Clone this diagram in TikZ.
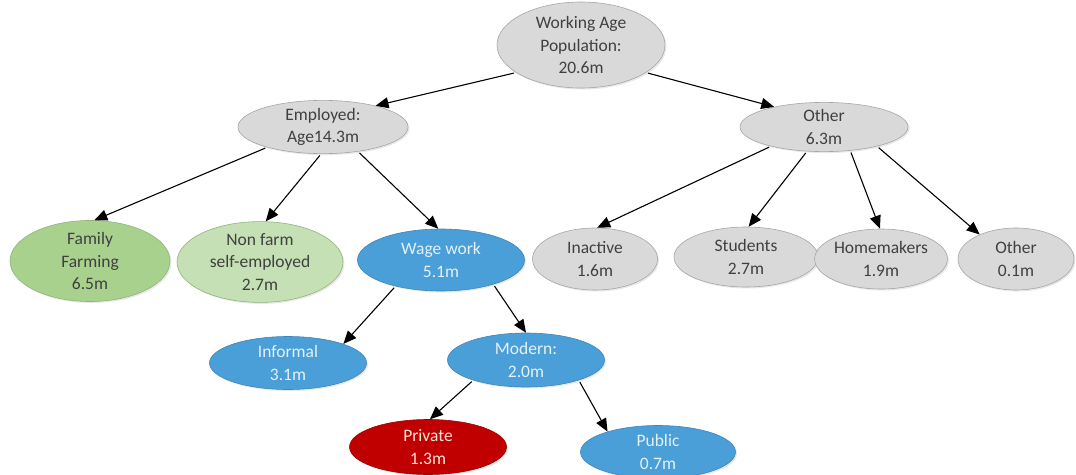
\documentclass[tikz,border=0pt]{standalone}
\usepackage{fontspec}
\setmainfont{Carlito}
\usetikzlibrary{shapes.geometric,arrows.meta,shadows}
\definecolor{gfill}{HTML}{D9D9D9}
\definecolor{gline}{HTML}{A6A6A6}
\definecolor{gtext}{HTML}{404040}
\definecolor{green1}{HTML}{A9D18E}
\definecolor{green2}{HTML}{C5E0B4}
\definecolor{greenline}{HTML}{8FB47A}
\definecolor{bfill}{HTML}{4A9FD8}
\definecolor{bline}{HTML}{3F86B8}
\definecolor{btext}{HTML}{E4F0FA}
\definecolor{rfill}{HTML}{C00000}
\definecolor{rline}{HTML}{A00000}
\definecolor{rtext}{HTML}{FBE3D6}
\tikzset{
  base/.style={ellipse,inner sep=0pt,align=center,line width=0.6pt,
    font=\fontsize{17.5}{22.5}\selectfont,
    drop shadow={opacity=0.18,shadow xshift=1.5pt,shadow yshift=-1.5pt}},
  gnode/.style={base,fill=gfill,draw=gline,text=gtext},
  fnode/.style={base,fill=green1,draw=greenline,text=gtext},
  nnode/.style={base,fill=green2,draw=greenline,text=gtext},
  bnode/.style={base,fill=bfill,draw=bline,text=btext},
  rnode/.style={base,fill=rfill,draw=rline,text=rtext},
  arr/.style={draw=black,line width=1.1pt,shorten <=2pt,
    -{Triangle[length=13pt,width=11pt]}}
}
\begin{document}
\begin{tikzpicture}[x=1pt,y=-1pt]
\useasboundingbox (0,0) rectangle (1076,474);
\node[gnode,minimum width=168pt,minimum height=86pt] (top) at (581,45) {Working Age\\Population:\\20.6m};
\node[gnode,minimum width=170pt,minimum height=45pt] (emp) at (323,127) {Employed:\\Age14.3m};
\node[gnode,minimum width=168pt,minimum height=45pt] (oth) at (824,127) {Other\\6.3m};
\node[fnode,minimum width=160pt,minimum height=72pt] (fam) at (90,261) {Family\\Farming\\6.5m};
\node[nnode,minimum width=166pt,minimum height=72pt] (nf) at (260,262) {Non farm\\self-employed\\2.7m};
\node[bnode,minimum width=167pt,minimum height=62pt] (wage) at (441,260) {Wage work\\5.1m};
\node[gnode,minimum width=125pt,minimum height=62pt] (inact) at (595,259) {Inactive\\1.6m};
\node[gnode,minimum width=144pt,minimum height=60pt] (stud) at (746,257) {Students\\2.7m};
\node[gnode,minimum width=126pt,minimum height=60pt] (home) at (881,259) {Homemakers\\1.9m};
\node[gnode,minimum width=116pt,minimum height=62pt] (oth2) at (1016,259) {Other\\0.1m};
\node[bnode,minimum width=157pt,minimum height=53pt] (inf) at (288,363) {Informal\\3.1m};
\node[bnode,minimum width=157pt,minimum height=54pt] (mod) at (526,360) {Modern:\\2.0m};
\node[rnode,minimum width=157pt,minimum height=55pt] (priv) at (428,447) {Private\\1.3m};
\node[bnode,minimum width=155pt,minimum height=53pt] (pub) at (658,452) {Public\\0.7m};
\draw[arr] (top.203) -- (emp.22);
\draw[arr] (top.337) -- (oth.158);
\draw[arr] (emp.200) -- (fam.84);
\draw[arr] (emp.266) -- (nf.82);
\draw[arr] (emp.325) -- (wage.95);
\draw[arr] (oth.200) -- (inact.86);
\draw[arr] (oth.235) -- (stud.85);
\draw[arr] (oth.318) -- (home.92);
\draw[arr] (oth.340) -- (oth2.146);
\draw[arr] (wage.210) -- (inf.19);
\draw[arr] (wage.335) -- (mod.90);
\draw[arr] (mod.201) -- (priv.86);
\draw[arr] (mod.339) -- (pub.158);
\end{tikzpicture}
\end{document}
